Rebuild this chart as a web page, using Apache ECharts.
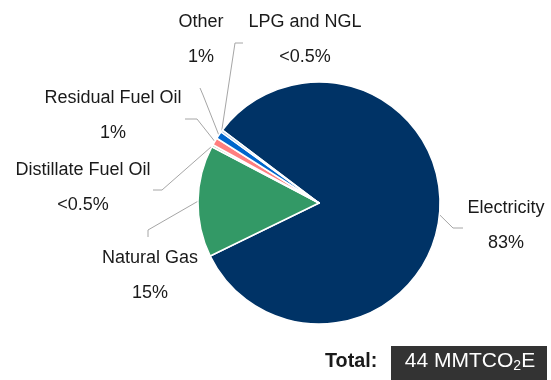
<!DOCTYPE html>
<html>
<head>
<meta charset="utf-8">
<script src="https://cdn.jsdelivr.net/npm/echarts@6/dist/echarts.min.js"></script>
<style>
  html, body { margin: 0; padding: 0; background: #ffffff; }
  #chart { width: 551px; height: 380px; }
</style>
</head>
<body>
<div id="chart"></div>
<script>
// Emissions by fuel source, percent of total
const categories = ['Electricity', 'Natural Gas', 'Distillate Fuel Oil', 'Residual Fuel Oil', 'Other', 'LPG and NGL'];
const shares = [83, 15, 0.3, 1, 1, 0.3];
const sliceColors = ['#003366', '#339966', '#9fd0b4', '#ff7f7f', '#0066cc', '#a9c4e0'];
const totalValue = 44;
const totalUnit = 'MMTCO';

// Where each two-line label block sits, and the bends of its leader line
const labelSpots = [[506, 226], [150, 276], [83, 188], [113, 116], [201, 40], [305, 40]];
const leaderBends = [
  [[453, 228], [463, 228]],
  [[148, 230], [148, 237]],
  [[162, 190], [153, 190]],
  [[197, 119], [185, 119]],
  [[203, 95], [200, 88]],
  [[235, 43], [243, 43]]
];

const FONT = '"Liberation Sans", Arial, sans-serif';

function shareText(v) {
  return v < 0.5 ? '<0.5%' : Math.round(v) + '%';
}

const chart = echarts.init(document.getElementById('chart'), null, { renderer: 'canvas' });

chart.setOption({
  animation: false,
  backgroundColor: '#ffffff',
  series: [{
    type: 'pie',
    center: [319, 203],
    radius: 121,
    startAngle: 143,
    clockwise: true,
    avoidLabelOverlap: false,
    itemStyle: { borderColor: '#ffffff', borderWidth: 1.5 },
    label: {
      show: true,
      position: 'outside',
      formatter: p => p.name + '\n' + shareText(p.value),
      fontFamily: FONT,
      fontSize: 18,
      lineHeight: 35,
      color: '#1a1a1a',
      align: 'center'
    },
    labelLine: {
      show: true,
      lineStyle: { color: '#a6a6a6', width: 1 }
    },
    labelLayout: function (params) {
      const i = params.dataIndex;
      const spot = labelSpots[i];
      const start = params.labelLinePoints ? params.labelLinePoints[0] : null;
      const out = {
        x: spot[0],
        y: spot[1],
        align: 'center',
        verticalAlign: 'middle'
      };
      if (start) {
        out.labelLinePoints = [start, leaderBends[i][0], leaderBends[i][1]];
      }
      return out;
    },
    data: categories.map((c, i) => ({
      name: c,
      value: shares[i],
      itemStyle: { color: sliceColors[i] }
    }))
  }],
  graphic: [
    {
      type: 'text',
      x: 325,
      y: 361,
      scaleX: 0.94,
      style: {
        text: 'Total:',
        font: 'bold 21px ' + FONT,
        fill: '#1a1a1a',
        verticalAlign: 'middle'
      }
    },
    {
      type: 'rect',
      shape: { x: 391, y: 346, width: 156, height: 34 },
      style: { fill: '#333333' }
    },
    {
      type: 'text',
      x: 470,
      y: 361,
      style: {
        text: '{a|' + totalValue + ' ' + totalUnit + '}{s|2}{a|E}',
        align: 'center',
        verticalAlign: 'middle',
        fill: '#ffffff',
        rich: {
          a: { fontFamily: FONT, fontSize: 21, fill: '#ffffff' },
          s: { fontFamily: FONT, fontSize: 14, fill: '#ffffff', padding: [10, 0, 0, 0] }
        }
      }
    }
  ]
});
</script>
</body>
</html>
